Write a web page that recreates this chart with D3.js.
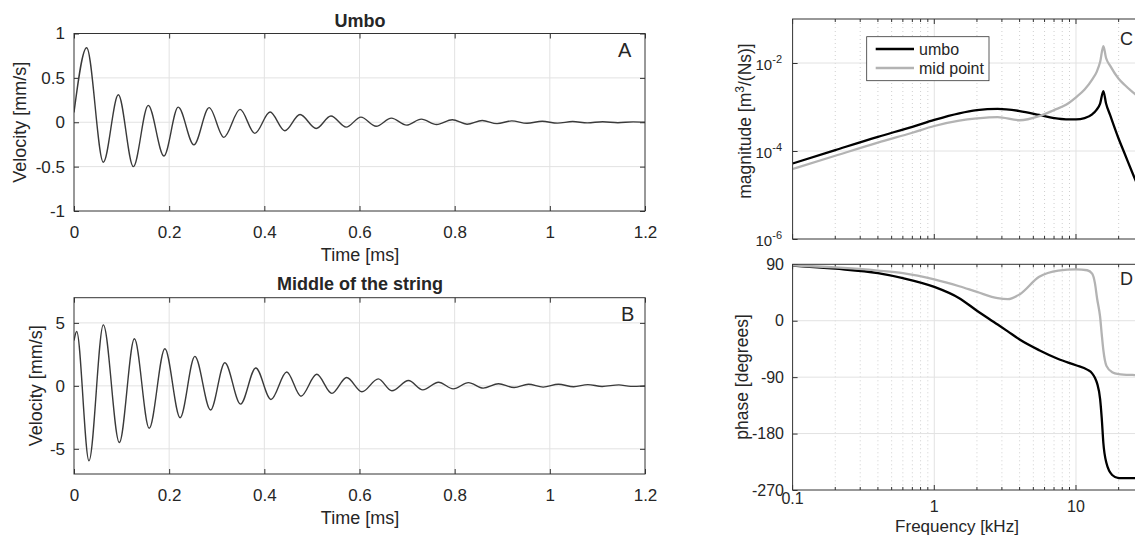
<!DOCTYPE html>
<meta charset="utf-8">
<style>
body { margin: 0; background: #fff; }
svg { font-family: "Liberation Sans", Arial, Helvetica, sans-serif; }
.box { fill: none; stroke: #333; stroke-width: 1; }
.grid line { stroke: #e2e2e2; stroke-width: 1; }
.minor line { stroke: #cfcfcf; stroke-width: 1; stroke-dasharray: 1,3; }
.trace { fill: none; stroke: #3a3a3a; stroke-width: 1.4; }
.bode { fill: none; stroke-width: 2.3; }
.tk line { stroke: #333; }
.tk text { fill: #262626; }
.lbl { fill: #262626; }
</style>
<body>
<script src="https://cdn.jsdelivr.net/npm/d3@7/dist/d3.min.js"></script>
<script>

// ---- values ----

// time axis (ms) shared by A and B
var timeTicks = [0, 0.2, 0.4, 0.6, 0.8, 1, 1.2];
var velTicksA = [-1, -0.5, 0, 0.5, 1];
var velTicksB = [-5, 0, 5];

// A: umbo velocity (mm/s), peaks and troughs
var umboTime = [0, 0.0266, 0.0617, 0.0932, 0.1247, 0.156, 0.189, 0.219, 0.252, 0.284, 0.315, 0.349, 0.380, 0.412,
  0.443, 0.475, 0.509, 0.540, 0.572, 0.603, 0.635, 0.667, 0.699, 0.730, 0.762, 0.795, 0.826, 0.858, 0.889, 0.920,
  0.952, 0.984, 1.016, 1.048, 1.079, 1.111, 1.143, 1.175, 1.2];
var umboVel = [0.11, 0.84, -0.45, 0.31, -0.50, 0.19, -0.38, 0.17, -0.255, 0.165, -0.17, 0.145, -0.125, 0.115,
  -0.095, 0.088, -0.07, 0.07, -0.055, 0.058, -0.045, 0.046, -0.032, 0.035, -0.026, 0.028, -0.022, 0.02, -0.016, 0.015,
  -0.012, 0.011, -0.01, 0.008, -0.007, 0.006, -0.005, 0.004, 0];

// B: middle of the string velocity (mm/s)
var stringTime = [0, 0.0056, 0.0315, 0.0617, 0.0953, 0.127, 0.158, 0.191, 0.223, 0.254, 0.287, 0.317, 0.350, 0.382,
  0.414, 0.447, 0.477, 0.510, 0.542, 0.573, 0.605, 0.6395, 0.668, 0.703, 0.733, 0.766, 0.797, 0.829, 0.860, 0.892,
  0.925, 0.955, 0.986, 1.018, 1.05, 1.08, 1.11, 1.145, 1.17, 1.2];
var stringVel = [3.6, 4.32, -5.95, 4.84, -4.5, 3.74, -3.37, 2.95, -2.53, 2.34, -1.92, 1.84, -1.45, 1.42,
  -1.08, 1.1, -0.82, 0.92, -0.6, 0.66, -0.47, 0.55, -0.39, 0.42, -0.32, 0.29, -0.24, 0.26, -0.18, 0.17,
  -0.13, 0.13, -0.1, 0.13, -0.07, 0.1, -0.05, 0.08, -0.04, 0];

// frequency axis (kHz) for C and D
var freqTicks = [0.1, 1, 10];
var freqTickLabels = ["0.1", "1", "10"];
var freqMinor = [0.2, 0.3, 0.4, 0.5, 0.6, 0.7, 0.8, 0.9, 2, 3, 4, 5, 6, 7, 8, 9, 20, 30];
var magTicks = [1e-6, 1e-4, 1e-2];
var magTickExp = ["-6", "-4", "-2"];
var phaseTicks = [-270, -180, -90, 0, 90];

// C: magnitude [m^3/(Ns)]
var magFreq = [0.1, 0.2, 0.4, 0.7, 1, 1.5, 2, 2.8, 4, 5.5, 7, 8.5, 10, 11.5, 13, 14, 14.8, 15.6, 16.3, 17.4, 20, 22, 25, 30];
var magUmbo = [5.2e-5, 1.05e-4, 2.1e-4, 3.55e-4, 5.1e-4, 7.2e-4, 8.5e-4, 9.1e-4, 8.1e-4, 6.6e-4, 5.6e-4, 5.25e-4,
  5.25e-4, 5.6e-4, 6.8e-4, 8.7e-4, 1.2e-3, 2.3e-3, 1.2e-3, 6.6e-4, 1.9e-4, 8.9e-5, 3.2e-5, 7.9e-6];
var magMid = [3.9e-5, 7.8e-5, 1.55e-4, 2.6e-4, 3.7e-4, 4.9e-4, 5.5e-4, 5.9e-4, 5.0e-4, 6.2e-4, 8.5e-4, 1.12e-3,
  1.66e-3, 2.5e-3, 4.2e-3, 6.3e-3, 1.05e-2, 2.4e-2, 1.3e-2, 8.7e-3, 4.4e-3, 3.2e-3, 2.2e-3, 1.4e-3];

// D: phase [degrees]
var phaseFreq = [0.1, 0.2, 0.4, 0.6, 1, 1.5, 2, 2.8, 3.3, 4, 5.5, 7.5, 10, 12, 13, 13.6, 14.1, 14.8, 15.2, 15.6, 16.4, 18, 20, 25, 30];
var phaseUmbo = [88, 83, 76, 68, 54, 36, 16, -6, -17, -30, -47, -61, -71, -78, -84, -91, -100, -125, -156, -195, -227, -246, -251, -251, -250];
var phaseMid = [88.5, 85, 80, 76, 66, 55, 46, 36, 34.5, 42, 70, 80, 82, 80.5, 75, 60, 35, 6, -22, -47, -72, -82, -85, -86.5, -87];

var legendNames = ["umbo", "mid point"];
var bodeColors = ["#000", "#b3b3b3"];

// ---- drawing ----
var svg = d3.select("body").append("svg")
    .attr("width", 1135)
    .attr("height", 536);

function zip(a, b) { return a.map(function(d, i) { return [d, b[i]]; }); }
// plain hyphen minus like the original, not the unicode minus d3.format gives
function plain(d) { return String(d); }

function cleanAxis(sel, size) {
  sel.attr("font-family", null).attr("font-size", size);
  sel.select(".domain").remove();
}

var clipId = 0;
function clip(x0, y0, w, h) {
  var id = "clip" + (clipId++);
  svg.append("clipPath").attr("id", id).append("rect")
      .attr("x", x0).attr("y", y0).attr("width", w).attr("height", h);
  return "url(#" + id + ")";
}

// panels A and B
function timePanel(top, bottom, yDom, yTicks, tt, vv, o) {
  var left = 74, right = 645;
  var x = d3.scaleLinear().domain([0, 1.2]).range([left, right]);
  var y = d3.scaleLinear().domain(yDom).range([bottom, top]);
  var g = svg.append("g");

  g.append("g").attr("class", "grid").selectAll("line")
      .data(timeTicks.slice(1, -1)).join("line")
      .attr("x1", function(d) { return x(d); }).attr("x2", function(d) { return x(d); })
      .attr("y1", top).attr("y2", bottom);
  g.append("g").attr("class", "grid").selectAll("line")
      .data(yTicks.filter(function(d) { return d > yDom[0] && d < yDom[1]; })).join("line")
      .attr("x1", left).attr("x2", right)
      .attr("y1", function(d) { return y(d); }).attr("y2", function(d) { return y(d); });

  g.append("g").attr("class", "tk").attr("transform", "translate(0," + bottom + ")")
      .call(d3.axisBottom(x).tickValues(timeTicks).tickFormat(plain)
        .tickSizeInner(-5).tickSizeOuter(0).tickPadding(14.5))
      .call(cleanAxis, 17);
  g.append("g").attr("class", "tk").attr("transform", "translate(0," + top + ")")
      .call(d3.axisTop(x).tickValues(timeTicks).tickFormat("").tickSizeInner(-5).tickSizeOuter(0))
      .call(cleanAxis, 17);
  g.append("g").attr("class", "tk").attr("transform", "translate(" + left + ",0)")
      .call(d3.axisLeft(y).tickValues(yTicks).tickFormat(plain)
        .tickSizeInner(-5).tickSizeOuter(0).tickPadding(9))
      .call(cleanAxis, 17);
  g.append("g").attr("class", "tk").attr("transform", "translate(" + right + ",0)")
      .call(d3.axisRight(y).tickValues(yTicks).tickFormat("").tickSizeInner(-5).tickSizeOuter(0))
      .call(cleanAxis, 17);

  g.append("path")
      .datum(zip(tt, vv))
      .attr("class", "trace")
      .attr("clip-path", clip(left, top, right - left, bottom - top))
      .attr("d", d3.line()
        .x(function(d) { return x(d[0]); })
        .y(function(d) { return y(d[1]); })
        .curve(d3.curveMonotoneX));

  g.append("rect").attr("class", "box")
      .attr("x", left).attr("y", top).attr("width", right - left).attr("height", bottom - top);

  g.append("text").attr("class", "lbl")
      .attr("x", 360).attr("y", o.titleY)
      .attr("text-anchor", "middle").attr("font-size", 18).attr("font-weight", "bold")
      .text(o.title);
  g.append("text").attr("class", "lbl")
      .attr("x", o.tagX).attr("y", o.tagY).attr("font-size", 20)
      .text(o.tag);
  g.append("text").attr("class", "lbl")
      .attr("x", 360).attr("y", o.xlabY)
      .attr("text-anchor", "middle").attr("font-size", 18)
      .text("Time [ms]");
  g.append("text").attr("class", "lbl")
      .attr("transform", "translate(" + o.ylabX + "," + ((top + bottom) / 2) + ") rotate(-90)")
      .attr("dy", "0.35em")
      .attr("text-anchor", "middle").attr("font-size", 18)
      .text("Velocity [mm/s]");
}

timePanel(33.5, 211, [-1, 1], velTicksA, umboTime, umboVel,
  {title: "Umbo", titleY: 27, tag: "A", tagX: 618, tagY: 57, xlabY: 261, ylabX: 20});
timePanel(297.7, 474, [-7, 7], velTicksB, stringTime, stringVel,
  {title: "Middle of the string", titleY: 290, tag: "B", tagX: 621, tagY: 321, xlabY: 524, ylabX: 36});

// panels C and D
var bLeft = 792.6, bRight = 1143.6;
var fx = d3.scaleLog().domain([0.1, 30]).range([bLeft, bRight]);
var my = d3.scaleLog().domain([1e-6, 1e-1]).range([239, 19]);
var py = d3.scaleLinear().domain([-270, 90]).range([490, 264.3]);

function bodeFrame(y, top, bottom, yGrid, yTicks) {
  var g = svg.append("g");
  g.append("g").attr("class", "minor").selectAll("line")
      .data(freqMinor).join("line")
      .attr("x1", function(d) { return fx(d); }).attr("x2", function(d) { return fx(d); })
      .attr("y1", top).attr("y2", bottom);
  g.append("g").attr("class", "grid").selectAll("line")
      .data(freqTicks.slice(1)).join("line")
      .attr("x1", function(d) { return fx(d); }).attr("x2", function(d) { return fx(d); })
      .attr("y1", top).attr("y2", bottom);
  g.append("g").attr("class", "grid").selectAll("line")
      .data(yGrid).join("line")
      .attr("x1", bLeft).attr("x2", bRight)
      .attr("y1", function(d) { return y(d); }).attr("y2", function(d) { return y(d); });

  // inward ticks on top and bottom, major and minor
  [top, bottom].forEach(function(edge) {
    var dir = edge === top ? 1 : -1;
    g.append("g").attr("class", "tk").selectAll("line")
        .data(freqTicks.concat(freqMinor)).join("line")
        .attr("x1", function(d) { return fx(d); }).attr("x2", function(d) { return fx(d); })
        .attr("y1", edge)
        .attr("y2", function(d) { return edge + dir * (freqTicks.indexOf(d) >= 0 ? 5 : 3); });
  });
  g.append("g").attr("class", "tk").attr("transform", "translate(" + bLeft + ",0)")
      .call(d3.axisLeft(y).tickValues(yTicks).tickFormat("").tickSizeInner(-5).tickSizeOuter(0))
      .call(cleanAxis, 16);
  return g;
}

var gc = bodeFrame(my, 19, 239, [1e-4, 1e-2], magTicks);
var gd = bodeFrame(py, 264.3, 490, [-180, -90, 0], phaseTicks);

// magnitude curves
var clipC = clip(bLeft, 19, bRight - bLeft, 220);
[magUmbo, magMid].forEach(function(vals, k) {
  gc.append("path")
      .datum(zip(magFreq, vals))
      .attr("class", "bode")
      .attr("stroke", bodeColors[k])
      .attr("clip-path", clipC)
      .attr("d", d3.line()
        .x(function(d) { return fx(d[0]); })
        .y(function(d) { return my(d[1]); })
        .curve(d3.curveMonotoneX));
});

// phase curves
var clipD = clip(bLeft, 264.3, bRight - bLeft, 225.7);
[phaseUmbo, phaseMid].forEach(function(vals, k) {
  gd.append("path")
      .datum(zip(phaseFreq, vals))
      .attr("class", "bode")
      .attr("stroke", bodeColors[k])
      .attr("clip-path", clipD)
      .attr("d", d3.line()
        .x(function(d) { return fx(d[0]); })
        .y(function(d) { return py(d[1]); })
        .curve(d3.curveMonotoneX));
});

gc.append("rect").attr("class", "box").attr("x", bLeft).attr("y", 19).attr("width", bRight - bLeft).attr("height", 220);
gd.append("rect").attr("class", "box").attr("x", bLeft).attr("y", 264.3).attr("width", bRight - bLeft).attr("height", 225.7);

// magnitude tick labels as powers of ten
gc.append("g").selectAll("text")
    .data(magTicks).join("text")
    .attr("class", "lbl")
    .attr("x", 782)
    .attr("y", function(d) { return my(d) + 6.5; })
    .attr("text-anchor", "end")
    .attr("font-size", 15)
    .each(function(d, i) {
      var t = d3.select(this);
      t.append("tspan").text("10");
      t.append("tspan").attr("dy", -7).attr("font-size", 11).text(magTickExp[i]);
    });

// phase tick labels
gd.append("g").selectAll("text")
    .data(phaseTicks).join("text")
    .attr("class", "lbl")
    .attr("x", 784)
    .attr("y", function(d) { return py(d); })
    .attr("dy", "0.35em")
    .attr("text-anchor", "end")
    .attr("font-size", 16)
    .text(plain);

// frequency tick labels (the first one sits a little higher in the original)
gd.append("g").selectAll("text")
    .data(freqTicks).join("text")
    .attr("class", "lbl")
    .attr("x", function(d) { return fx(d); })
    .attr("y", function(d, i) { return i === 0 ? 504 : 512; })
    .attr("text-anchor", "middle")
    .attr("font-size", 16)
    .text(function(d, i) { return freqTickLabels[i]; });

gd.append("text").attr("class", "lbl")
    .attr("x", 957).attr("y", 532)
    .attr("text-anchor", "middle").attr("font-size", 17)
    .text("Frequency [kHz]");

var magLab = gc.append("text").attr("class", "lbl")
    .attr("transform", "translate(745,121) rotate(-90)")
    .attr("dy", "0.35em")
    .attr("text-anchor", "middle").attr("font-size", 17.5);
magLab.append("tspan").text("magnitude [m");
magLab.append("tspan").attr("dy", -7).attr("font-size", 12).text("3");
magLab.append("tspan").attr("dy", 7).text("/(Ns)]");

gd.append("text").attr("class", "lbl")
    .attr("transform", "translate(742,377) rotate(-90)")
    .attr("dy", "0.35em")
    .attr("text-anchor", "middle").attr("font-size", 17.5)
    .text("phase [degrees]");

gc.append("text").attr("class", "lbl").attr("x", 1120).attr("y", 45).attr("font-size", 18).text("C");
gd.append("text").attr("class", "lbl").attr("x", 1120).attr("y", 285).attr("font-size", 18).text("D");

// legend
var leg = gc.append("g");
leg.append("rect")
    .attr("x", 866.7).attr("y", 36.7).attr("width", 122.3).attr("height", 44)
    .attr("fill", "#fff").attr("stroke", "#333").attr("stroke-width", 0.8);
legendNames.forEach(function(name, k) {
  var yy = 49 + k * 19;
  leg.append("line")
      .attr("x1", 875.7).attr("x2", 914).attr("y1", yy).attr("y2", yy)
      .attr("stroke", bodeColors[k]).attr("stroke-width", 2.3);
  leg.append("text").attr("class", "lbl")
      .attr("x", 919).attr("y", yy).attr("dy", "0.35em")
      .attr("font-size", 16)
      .text(name);
});

</script>
</body>
